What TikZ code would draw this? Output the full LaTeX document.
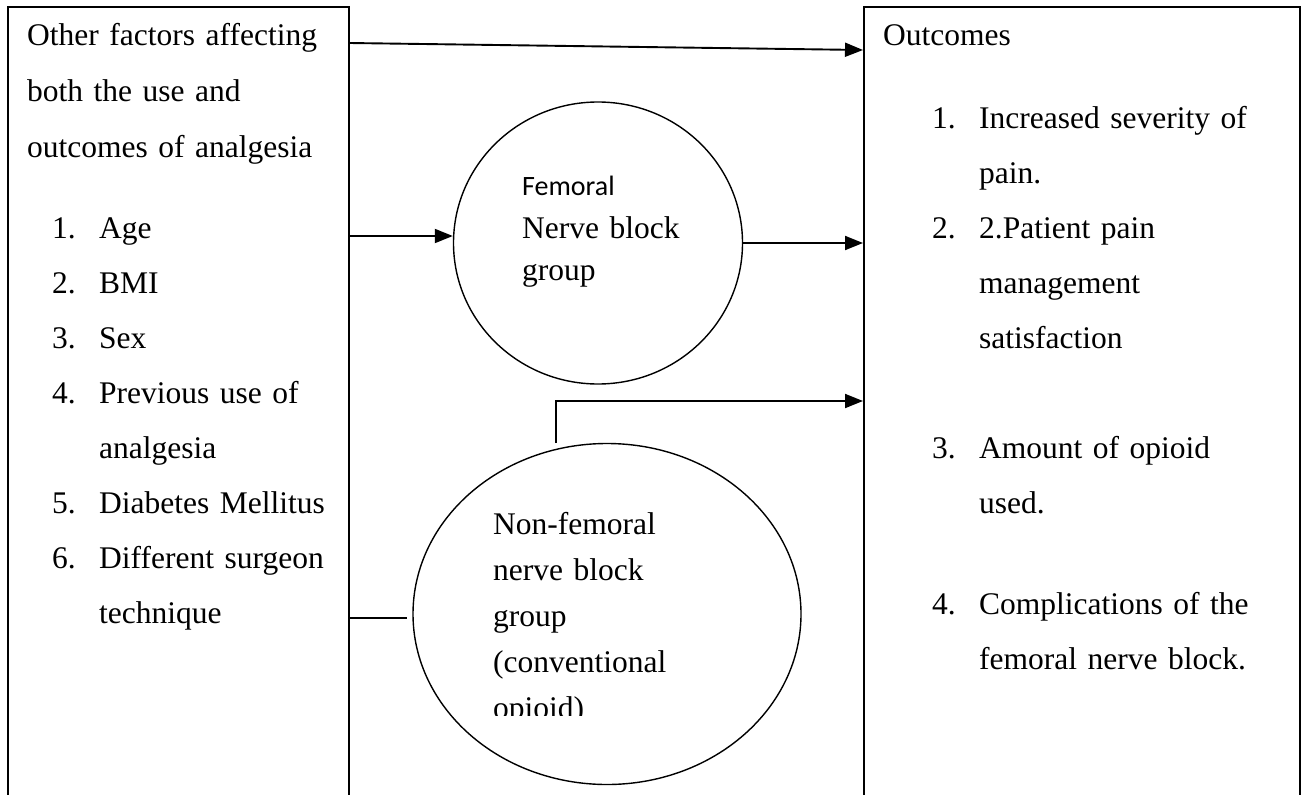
\documentclass[tikz,border=0pt]{standalone}
\usepackage{fontspec}
\setmainfont{Liberation Serif}
\newfontfamily\calibri{Carlito}
\usetikzlibrary{arrows.meta,shapes.geometric}
\newcommand{\numbox}[1]{\makebox[47pt][l]{#1}}
\newcommand{\numskip}{\hspace*{47pt}}

\begin{document}
\begin{tikzpicture}[x=1pt,y=-1pt,
	box/.style={draw,line width=1.6pt,anchor=north west,minimum height=900pt,inner sep=0pt},
	blob/.style={draw,ellipse,line width=1.4pt,inner sep=0pt},
	txt/.style={anchor=base west,inner sep=0pt,align=left,text width=330pt,font=\fontsize{31.5}{55}\selectfont},
	arr/.style={-{Triangle[length=18pt,width=14pt]},line width=1.9pt}]
					\useasboundingbox (0,0) rectangle (1304,795);
					\clip (0,0) rectangle (1304,795);
					%BOXES
					\node[box,minimum width=341pt] (factors) at (7,6) {};
					\node[box,minimum width=436pt] (outcomes) at (863,6) {};
					%GROUPS
					\node[blob,minimum width=289pt,minimum height=282pt] (femoral) at (598,243) {};
					\node[blob,minimum width=388pt,minimum height=341pt] (nonfem) at (607,614) {};
					%LEFT TEXT
					\node[txt,font=\fontsize{31.5}{56}\selectfont] (factorshead) at (27,45) {Other factors affecting\\both the use and\\outcomes of analgesia};
					\node[txt] (factorslist) at (52,238) {\numbox{1.}Age\\\numbox{2.}BMI\\\numbox{3.}Sex\\\numbox{4.}Previous use of\\\numskip analgesia\\\numbox{5.}Diabetes Mellitus\\\numbox{6.}Different surgeon\\\numskip technique};
					%RIGHT TEXT
					\node[txt] (outcomeshead) at (883,45) {Outcomes};
					\node[txt] (outcome1) at (932,128) {\numbox{1.}Increased severity of\\\numskip pain.\\\numbox{2.}2.Patient pain\\\numskip management\\\numskip satisfaction};
					\node[txt] (outcome3) at (932,458) {\numbox{3.}Amount of opioid\\\numskip used.};
					\node[txt] (outcome4) at (932,614) {\numbox{4.}Complications of the\\\numskip femoral nerve block.};
					%GROUP TEXT
					\node[txt,font=\calibri\fontsize{28}{42}\selectfont] (femoralname) at (522,195) {Femoral};
					\node[txt,font=\fontsize{31.5}{42}\selectfont] (femoraltext) at (522,238) {Nerve block\\group};
					\begin{scope}
					\clip (400,440) rectangle (900,715);
					\node[txt,font=\fontsize{31.5}{46}\selectfont] (nonfemtext) at (493,534) {Non-femoral\\nerve block\\group\\(conventional\\opioid)};
					\end{scope}
					%ARROWS
					\coordinate (topline) at (0,43);
					\coordinate (topend) at (0,50);
					\coordinate (femline) at (0,236);
					\coordinate (nfline) at (0,401);
					\coordinate (sideline) at (0,618);
					\coordinate (nfstub) at (556,443);
					\coordinate (sideend) at (407,618);
					\draw[arr] (factors.east |- topline) -- (outcomes.west |- topend);
					\draw[arr] (factors.east |- femline) -- (femoral.west |- femline);
					\draw[arr] (femoral.east) -- (outcomes.west |- femoral.east);
					\draw[arr] (nfstub) |- (outcomes.west |- nfline);
					\draw[line width=1.6pt] (factors.east |- sideline) -- (sideend);
	  \end{tikzpicture}
\end{document}
